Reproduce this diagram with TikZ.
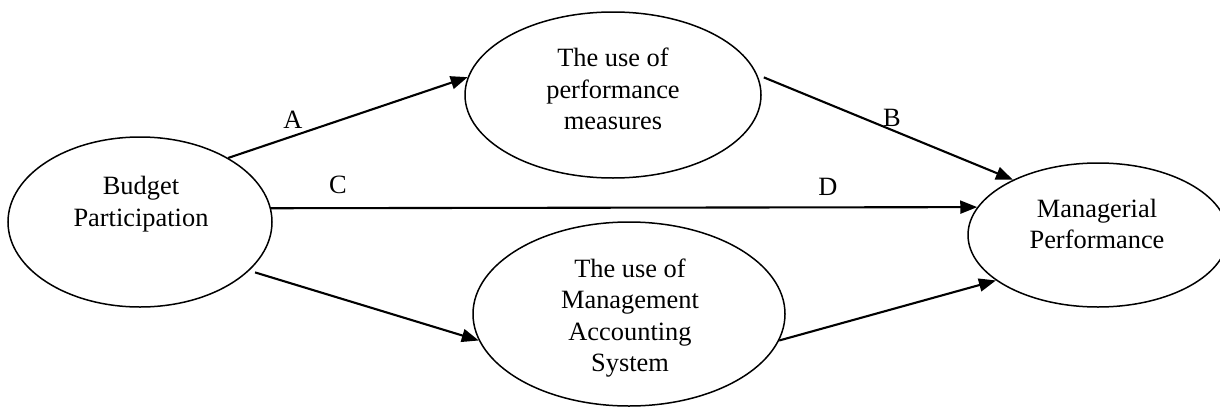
\documentclass[tikz,border=0pt]{standalone}
\usepackage{fontspec}
\setmainfont{Liberation Serif}
\usetikzlibrary{shapes.geometric,arrows.meta}
\begin{document}
\begin{tikzpicture}[x=0.5pt,y=-0.5pt,
  ell/.style={draw, ellipse, line width=0.75pt, inner sep=0pt},
  txt/.style={align=center, inner sep=0pt, font=\fontsize{13.2pt}{15.7pt}\selectfont},
  lbl/.style={inner sep=0pt, font=\fontsize{13.2pt}{15.7pt}\selectfont},
  arr/.style={line width=1.05pt, -{Triangle[length=8.5pt,width=6.5pt]}}
]
\useasboundingbox (0,0) rectangle (1220,407);
\node[ell, minimum width=132pt, minimum height=85pt] (bp) at (140,222) {};
\node[ell, minimum width=148pt, minimum height=83pt] (pm) at (613,95) {};
\node[ell, minimum width=156pt, minimum height=92pt] (mas) at (629,314) {};
\node[ell, minimum width=130pt, minimum height=72pt] (mp) at (1098,235) {};
\node[txt] (bpt) at (141,204) {Budget\\Participation};
\node[txt] (pmt) at (613,89) {The use of\\performance\\measures};
\node[txt] (mast) at (630,318) {The use of\\Management\\Accounting\\System};
\node[txt] (mpt) at (1097,224) {Managerial\\Performance};
\draw[arr] (bp.36) -- (pm.173);
\draw[arr, shorten <=3.5pt] (pm.8) -- (mp.147);
\draw[arr] (bp.6) -- (mp.167);
\draw[arr, shorten <=3pt] (bp.-24) -- (mas.190);
\draw[arr] (mas.-10) -- (mp.204);
\node[lbl] (la) at (293,120) {A};
\node[lbl] (lb) at (892,118) {B};
\node[lbl] (lc) at (338,185) {C};
\node[lbl] (ld) at (828,187) {D};
\end{tikzpicture}
\end{document}
